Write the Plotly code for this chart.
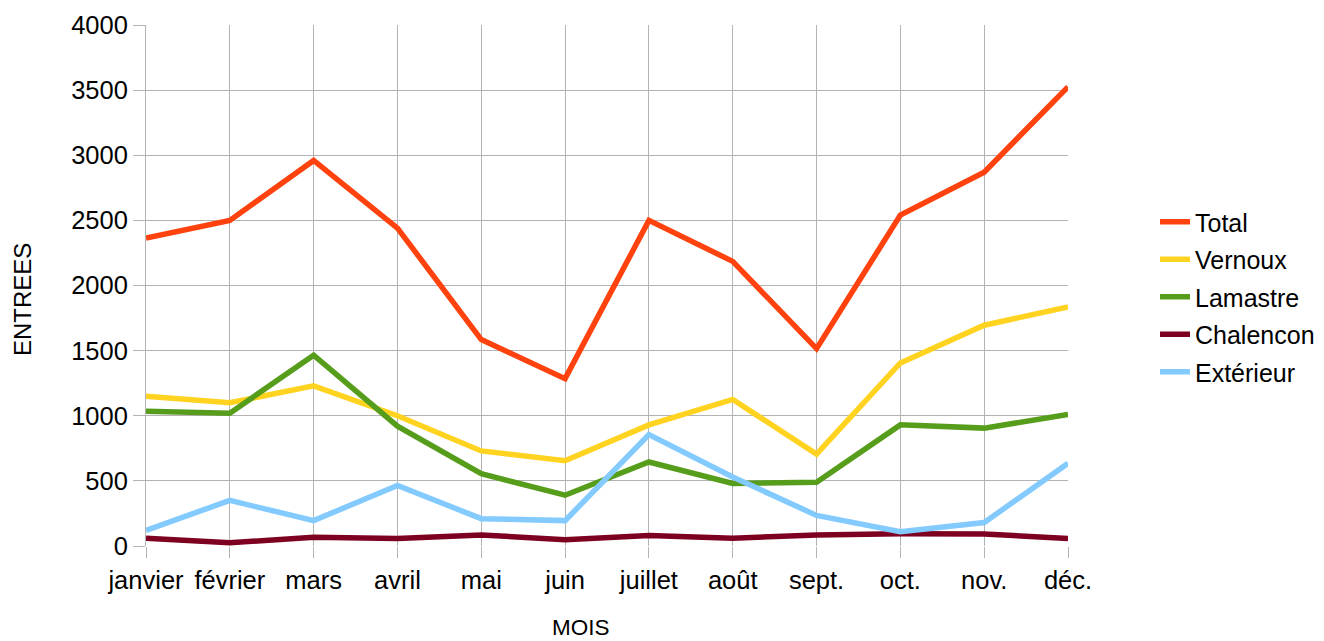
import plotly.graph_objects as go

months = ["janvier", "février", "mars", "avril", "mai", "juin",
          "juillet", "août", "sept.", "oct.", "nov.", "déc."]

total = [2365, 2500, 2960, 2440, 1585, 1285, 2500, 2185, 1515, 2540, 2870, 3525]
vernoux = [1150, 1100, 1230, 1000, 730, 655, 930, 1125, 705, 1405, 1695, 1835]
lamastre = [1035, 1020, 1465, 920, 555, 390, 645, 480, 490, 930, 905, 1010]
chalencon = [60, 25, 67, 58, 85, 48, 80, 60, 85, 95, 92, 58]
exterieur = [120, 350, 195, 465, 210, 195, 855, 530, 235, 110, 180, 635]

series = [
    ("Total", total, "#ff420e"),
    ("Vernoux", vernoux, "#ffd320"),
    ("Lamastre", lamastre, "#579d1c"),
    ("Chalencon", chalencon, "#7e0021"),
    ("Extérieur", exterieur, "#83caff"),
]

y_ticks = [0, 500, 1000, 1500, 2000, 2500, 3000, 3500, 4000]

FONT = "Liberation Sans, Arial, sans-serif"

fig = go.Figure()
for name, vals, color in series:
    fig.add_trace(go.Scatter(
        x=months, y=vals, name=name, mode="lines",
        line=dict(color=color, width=5.5),
        legendgroup=name,
    ))

# page body has an 8px margin: figure starts at (8, 8) on screen
OFF = 8
W, H = 1324 - OFF, 641 - OFF
L, T = 146 - OFF, 25 - OFF
R = W - (1068 - OFF)
B = H - (546 - OFF)
pw = W - L - R
ph = H - T - B


def px(xs):
    return (xs - OFF - L) / pw


def py(ys):
    return (H - B - (ys - OFF)) / ph


fig.update_layout(
    width=W, height=H,
    margin=dict(l=L, r=R, t=T, b=B, pad=0, autoexpand=False),
    paper_bgcolor="white", plot_bgcolor="white",
    font=dict(family=FONT, color="#000000", size=25),
    showlegend=True,
    legend=dict(
        x=px(1155), xanchor="left",
        y=py(297), yanchor="middle",
        font=dict(size=25, family=FONT),
        tracegroupgap=2,
        bgcolor="rgba(0,0,0,0)",
    ),
    xaxis=dict(
        type="category",
        range=[0, len(months) - 1],
        showgrid=True, gridcolor="#b3b3b3", gridwidth=1,
        showline=False, zeroline=False,
        ticks="outside", ticklen=11, tickcolor="#b3b3b3", tickwidth=1,
        tickfont=dict(size=25.5, family=FONT),
    ),
    yaxis=dict(
        range=[0, 4000],
        tickvals=y_ticks,
        showgrid=True, gridcolor="#b3b3b3", gridwidth=1,
        showline=True, linecolor="#b3b3b3", linewidth=1,
        zeroline=False,
        ticks="outside", ticklen=12, tickcolor="#b3b3b3", tickwidth=1,
        tickfont=dict(size=25.5, family=FONT),
    ),
    annotations=[
        dict(text="ENTREES", xref="paper", yref="paper",
             x=px(22), y=py(300),
             xanchor="center", yanchor="middle", textangle=-90,
             showarrow=False, font=dict(size=24, family=FONT)),
        dict(text="MOIS", xref="paper", yref="paper",
             x=px(581), y=py(627),
             xanchor="center", yanchor="middle",
             showarrow=False, font=dict(size=22.5, family=FONT)),
    ],
)

fig.write_html("out.html")
